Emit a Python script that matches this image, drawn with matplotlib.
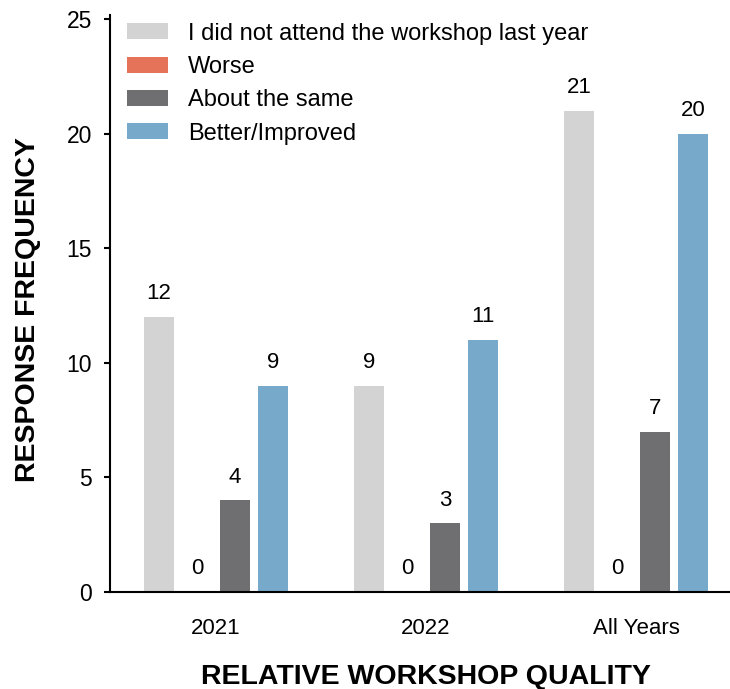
import numpy as np
import matplotlib.pyplot as plt

plt.rcParams['font.family'] = ['Liberation Sans', 'DejaVu Sans']

# data
groups = ['2021', '2022', 'All Years']
series = ['I did not attend the workshop last year', 'Worse', 'About the same', 'Better/Improved']
not_attended = [12, 9, 21]
worse = [0, 0, 0]
same = [4, 3, 7]
better = [9, 11, 20]
colors = ['#d3d3d3', '#e5735a', '#6f6f71', '#77a9ca']

values = [not_attended, worse, same, better]

fig = plt.figure(figsize=(7.3, 6.89), dpi=100)
# axes: left spine at x=110px, bottom at y=592px, top at y=15px
ax = fig.add_axes([110 / 730, 97 / 689, 620 / 730, 577 / 689])

x = np.arange(len(groups))
step = 0.181
width = 0.143
for i, (name, vals, c) in enumerate(zip(series, values, colors)):
    pos = x + (i - 1.5) * step
    bars = ax.bar(pos, vals, width=width, color=c, label=name)
    ax.bar_label(bars, labels=[str(v) for v in vals], padding=9, fontsize=16)

ax.set_xlim(-0.505, 2.448)
ax.set_ylim(0, 25.17)
ax.set_yticks([0, 5, 10, 15, 20, 25])
ax.set_xticks(x)
ax.set_xticklabels(groups)
ax.tick_params(axis='x', length=0, labelsize=16, pad=19)
ax.tick_params(axis='y', length=4, width=1.5, labelsize=16.5, pad=9)

for s in ['top', 'right']:
    ax.spines[s].set_visible(False)
for s in ['left', 'bottom']:
    ax.spines[s].set_linewidth(1.5)

ax.set_xlabel('RELATIVE WORKSHOP QUALITY', fontsize=20.5, fontweight='bold')
ax.set_ylabel('RESPONSE FREQUENCY', fontsize=20.5, fontweight='bold')
ax.xaxis.set_label_coords(0.509, -0.125)
ax.yaxis.set_label_coords(-0.112, 0.489)

ax.legend(loc='upper left', frameon=False, fontsize=17, handlelength=1.75,
          handleheight=0.66, handletextpad=0.85, labelspacing=0.48,
          borderpad=0, borderaxespad=0, bbox_to_anchor=(17 / 620, 0.987))

fig.savefig('out.png', dpi=100)
